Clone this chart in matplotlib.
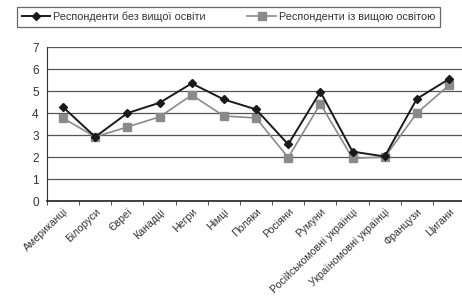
import matplotlib.pyplot as plt
import numpy as np

plt.rcParams['font.family'] = ['Liberation Sans', 'DejaVu Sans']

categories = ['Американці', 'Білоруси', 'Євреї', 'Канадці', 'Негри', 'Німці', 'Поляки',
              'Росіяни', 'Румуни', 'Російськомовні українці', 'Україномовні українці',
              'Французи', 'Цигани']
no_higher_edu = [4.27, 2.92, 4.0, 4.47, 5.35, 4.62, 4.17, 2.58, 4.97, 2.25, 2.03, 4.65, 5.55]
higher_edu = [3.77, 2.92, 3.37, 3.83, 4.82, 3.87, 3.78, 1.98, 4.42, 1.95, 2.0, 4.0, 5.27]

fig = plt.figure(figsize=(4.62, 3.02), dpi=100)
ax = fig.add_axes([0.1017, 0.334, 0.905, 0.51])

x = np.arange(len(categories))
ax.plot(x, higher_edu, color='#8a8a8a', lw=1.2, marker='s', ms=5.5,
        mfc='#8a8a8a', mec='#8a8a8a', label='Респонденти із вищою освітою', zorder=3)
ax.plot(x, no_higher_edu, color='#1a1a1a', lw=1.4, marker='D', ms=4.5,
        mfc='#1a1a1a', mec='#1a1a1a', label='Респонденти без вищої освіти', zorder=4)

ax.set_xlim(-0.5, len(categories) - 0.5)
ax.set_ylim(0, 7)
ax.set_yticks(range(0, 8))
ax.yaxis.grid(True, color='#555555', lw=0.9)
ax.set_axisbelow(True)

ax.set_xticks(x)
ax.set_xticklabels(categories, rotation=44, ha='right', rotation_mode='anchor',
                   fontsize=7.6, color='#333333')
ax.set_xticks(np.arange(-0.5, len(categories)), minor=True)
ax.tick_params(axis='x', which='major', length=0, pad=4)
ax.tick_params(axis='x', which='minor', length=3, direction='out', color='#333333')
ax.tick_params(axis='y', length=0, labelsize=8.5, colors='#333333', pad=6)

for s in ['top', 'right']:
    ax.spines[s].set_visible(False)
ax.spines['left'].set_color('#333333')
ax.spines['bottom'].set_color('#222222')
ax.spines['bottom'].set_linewidth(1.2)

handles, labels = ax.get_legend_handles_labels()
leg = fig.legend(handles[::-1], labels[::-1], ncol=2, loc='lower left',
                 bbox_to_anchor=(12 / 462, 0.894, 433 / 462, 0.073), mode='expand',
                 fontsize=7.8, frameon=True, fancybox=False, edgecolor='#444444',
                 borderpad=0.4, handlelength=2.6, columnspacing=1.6, handletextpad=0.3)
leg.get_frame().set_linewidth(0.9)
for t in leg.get_texts():
    t.set_color('#333333')

fig.savefig('out.png', dpi=100, facecolor='white')
